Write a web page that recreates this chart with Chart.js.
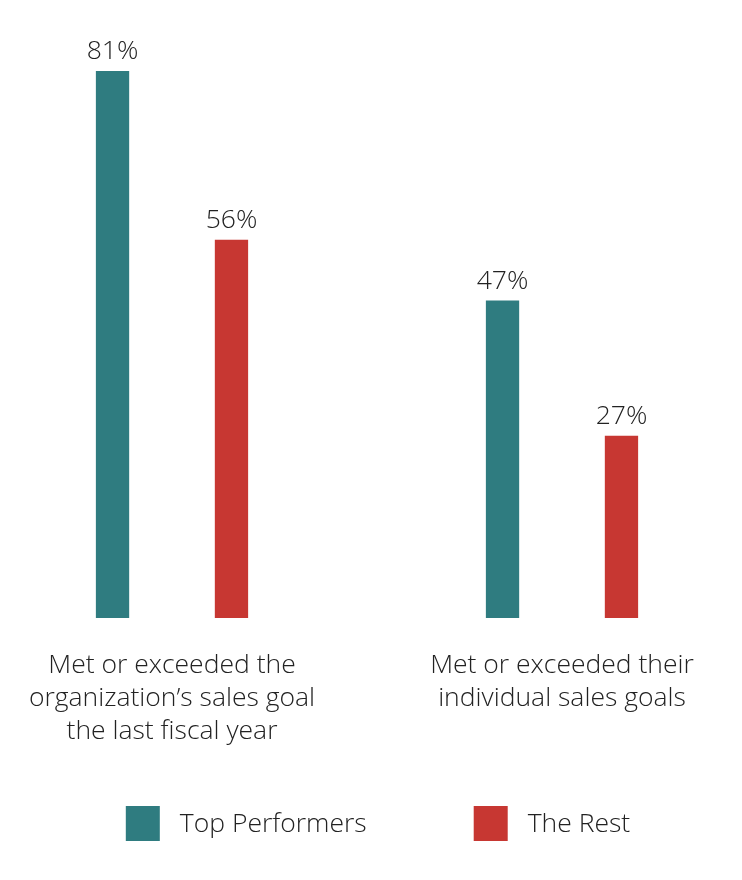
<!DOCTYPE html>
<html>
<head>
<meta charset="utf-8">
<script src="https://cdn.jsdelivr.net/npm/chart.js@4.4.1/dist/chart.umd.min.js"></script>
<style>
  html, body { margin: 0; padding: 0; background: #fff; overflow: hidden; }
  #wrap { position: relative; left: -23px; width: 780px; height: 880px; }
</style>
</head>
<body>
<div id="wrap"><canvas id="salesChart"></canvas></div>
<script>
// Chart data
const categories = [
  ["Met or exceeded the", "organization\u2019s sales goal", "the last fiscal year"],
  ["Met or exceeded their", "individual sales goals"]
];
const topPerformers = [81, 47];
const theRest = [56, 27];
const seriesNames = ["Top Performers", "The Rest"];
const seriesColors = ["#2f7c80", "#c73732"];

const fontFamily = "'Open Sans', 'Noto Sans', sans-serif";
const fontSize = 26.5;
const textColor = "#222";

// Percent labels above each bar
const valueLabels = {
  id: "valueLabels",
  afterDatasetsDraw(chart) {
    const ctx = chart.ctx;
    ctx.save();
    ctx.font = "300 " + fontSize + "px " + fontFamily;
    ctx.fillStyle = textColor;
    ctx.textAlign = "center";
    ctx.textBaseline = "alphabetic";
    chart.data.datasets.forEach((ds, i) => {
      chart.getDatasetMeta(i).data.forEach((bar, j) => {
        ctx.fillText(ds.data[j] + "%", bar.x, bar.y - 12);
      });
    });
    ctx.restore();
  }
};

// Legend drawn at the bottom with wide spacing
const bottomLegend = {
  id: "bottomLegend",
  afterDraw(chart) {
    const ctx = chart.ctx;
    const boxSize = 34;
    const textGap = 20;
    const itemGap = 107;
    const centerY = 823;
    ctx.save();
    ctx.font = "300 " + fontSize + "px " + fontFamily;
    const widths = chart.data.datasets.map(ds => ctx.measureText(ds.label).width);
    let total = 0;
    widths.forEach((w, i) => {
      total += boxSize + textGap + w + (i < widths.length - 1 ? itemGap : 0);
    });
    let x = chart.width / 2 + 11 - total / 2;
    chart.data.datasets.forEach((ds, i) => {
      ctx.fillStyle = ds.backgroundColor;
      ctx.fillRect(x, centerY - boxSize / 2, boxSize, boxSize + 1);
      ctx.fillStyle = textColor;
      ctx.textAlign = "left";
      ctx.textBaseline = "middle";
      ctx.fillText(ds.label, x + boxSize + textGap, centerY + 1);
      x += boxSize + textGap + widths[i] + itemGap;
    });
    ctx.restore();
  }
};

const ctx = document.getElementById("salesChart").getContext("2d");
new Chart(ctx, {
  type: "bar",
  data: {
    labels: categories,
    datasets: [
      {
        label: seriesNames[0],
        data: topPerformers,
        backgroundColor: seriesColors[0]
      },
      {
        label: seriesNames[1],
        data: theRest,
        backgroundColor: seriesColors[1]
      }
    ]
  },
  options: {
    responsive: true,
    maintainAspectRatio: false,
    animation: false,
    categoryPercentage: 0.61,
    barPercentage: 0.28,
    layout: {
      padding: { top: 44, bottom: 109, left: 0, right: 0 }
    },
    plugins: {
      legend: { display: false },
      tooltip: { enabled: false }
    },
    scales: {
      x: {
        grid: { display: false },
        border: { display: false },
        ticks: {
          padding: 23,
          color: textColor,
          font: { family: fontFamily, size: fontSize, weight: 300, lineHeight: 1.245 },
          maxRotation: 0,
          autoSkip: false
        }
      },
      y: {
        display: false,
        min: 0,
        max: 85
      }
    }
  },
  plugins: [valueLabels, bottomLegend]
});
</script>
</body>
</html>
